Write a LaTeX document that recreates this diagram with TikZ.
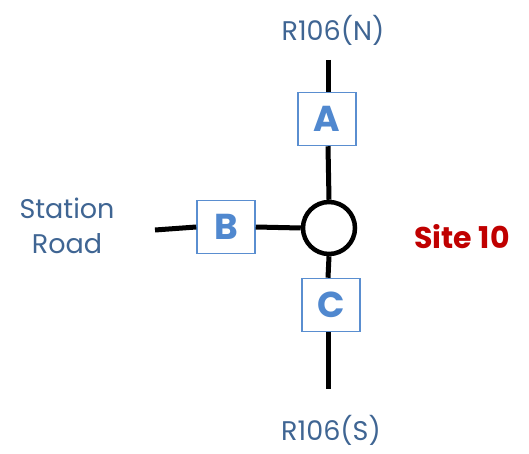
\documentclass[tikz,border=0pt]{standalone}
\usepackage{fontspec}
\setmainfont{Poppins}
\definecolor{lbl}{HTML}{3F6593}
\definecolor{boxc}{HTML}{5A8ED0}
\definecolor{lett}{HTML}{5088CF}
\definecolor{site}{HTML}{C00000}
\begin{document}
\begin{tikzpicture}[x=1pt,y=-1pt,
  road/.style={line width=5pt,black},
  armbox/.style={draw=boxc,line width=1.5pt,fill=white,minimum width=58pt,minimum height=53pt,inner sep=0pt,font=\fontsize{36}{38}\selectfont\bfseries,text=lett},
  lab/.style={text=lbl,font=\fontsize{27}{35}\selectfont,align=center}]
\useasboundingbox (0,0) rectangle (529,454);
\node[circle,draw,line width=4.5pt,minimum size=52pt,inner sep=0pt] (rb) at (329,228) {};
\coordinate (n) at (328,60);
\coordinate (s) at (328,389);
\coordinate (w) at (155,230);
\node[armbox] (A) at (327,119) {A};
\node[armbox] (C) at (331,305) {C};
\node[armbox] (B) at (226,227) {B};
\draw[road] (n) -- (A.north -| n);
\draw[road] (A.south -| n) -- (rb.north);
\draw[road] (rb.south) -- (C.north -| s);
\draw[road] (C.south -| s) -- (s);
\draw[road] (w) -- (B.west);
\draw[road] (B.east) -- (rb.west);
\node[lab] (ln) at (333,30) {R106(N)};
\node[lab] (ls) at (331,430) {R106(S)};
\node[lab] (lw) at (67,226) {Station\\Road};
\node[text=site,font=\fontsize{30}{32}\selectfont\bfseries] (site) at (462,237) {Site 10};
\end{tikzpicture}
\end{document}
